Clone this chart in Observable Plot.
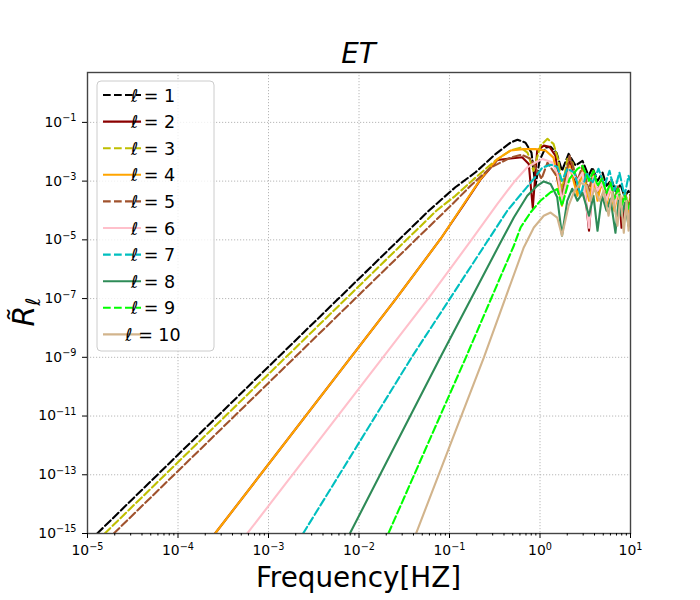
<!DOCTYPE html>
<html><head><meta charset="utf-8">
<script src="https://cdn.jsdelivr.net/npm/d3@7"></script>
<script src="https://cdn.jsdelivr.net/npm/@observablehq/plot@0.6"></script>
<style>
body{margin:0;background:#fff;font-family:"DejaVu Sans",sans-serif;}
#wrap{position:relative;width:700px;height:600px;}
#title{position:absolute;left:87px;width:543px;top:39.5px;text-align:center;font-size:27.8px;font-style:italic;line-height:1;font-family:"DejaVu Sans",sans-serif;z-index:2;}
</style></head><body>
<div id="wrap"><div id="title">ET</div></div>
<script>
// ---- data (frequency in Hz, response R̃_ℓ) ----
const ell1F = [1.28e-5, 2.75e-4, 5.94e-3, 5.94e-2, 0.116, 0.194, 0.322, 0.472, 0.564, 0.692, 0.805, 0.891, 0.989, 1.15, 1.31, 1.52, 1.75, 2.07, 2.47, 2.95, 3.44, 3.80, 4.32, 4.91, 5.43, 6.17, 6.82, 7.76, 8.59, 9.51, 10];
const ell1R = [1e-15, 1e-11, 1e-7, 1e-4, 6.17e-4, 2.0e-3, 8.32e-3, 2.04e-2, 2.57e-2, 2.04e-2, 9.33e-3, 6.92e-4, 5.01e-3, 1.38e-2, 1.48e-2, 9.33e-3, 2.24e-3, 8.51e-3, 3.39e-3, 4.90e-3, 1.51e-3, 2.88e-3, 1.02e-3, 1.95e-3, 6.92e-4, 1.12e-3, 4.68e-4, 7.59e-4, 2.95e-4, 4.68e-4, 3.16e-4];

const ell2F = [2.57e-4, 0.0257, 0.0796, 0.144, 0.220, 0.337, 0.472, 0.635, 0.752, 0.832, 0.931, 1.10, 1.27, 1.48, 1.75, 2.12, 2.59, 2.95, 3.48, 3.90, 4.32, 4.91, 5.43, 6.01, 6.65, 7.46, 7.96, 8.69, 9.51, 10];
const ell2R = [1e-15, 1e-7, 1.07e-5, 1.58e-4, 1.12e-3, 5.25e-3, 5.89e-3, 6.46e-3, 3.80e-3, 1.23e-4, 1.10e-2, 1.62e-2, 1.48e-2, 7.41e-3, 2.14e-4, 5.01e-3, 4.68e-4, 2.63e-3, 2.04e-5, 1.95e-3, 3.16e-4, 1.02e-3, 2.14e-4, 6.92e-4, 1.45e-4, 4.68e-4, 2.57e-5, 2.51e-4, 9.77e-5, 2.14e-4];

const ell3F = [1.55e-5, 3.34e-4, 7.21e-3, 0.0721, 0.116, 0.194, 0.322, 0.472, 0.610, 0.728, 0.847, 1.01, 1.21, 1.41, 1.60, 1.75, 2.01, 2.29, 2.59, 2.95, 3.48, 3.86, 4.32, 4.84, 5.43, 6.01, 6.65, 7.28, 7.96, 8.69, 9.51, 10];
const ell3R = [1e-15, 1e-11, 1e-7, 1e-4, 3.16e-4, 1.32e-3, 5.01e-3, 1.10e-2, 1.38e-2, 9.33e-3, 2.24e-3, 1.62e-2, 2.75e-2, 1.86e-2, 5.01e-3, 4.68e-4, 5.75e-3, 4.17e-3, 6.92e-4, 2.88e-3, 3.16e-4, 1.95e-3, 3.98e-4, 1.41e-3, 2.51e-4, 8.71e-4, 2.14e-4, 6.46e-4, 1.45e-4, 4.68e-4, 1.15e-4, 3.47e-4];

const ell4F = [2.57e-4, 0.0257, 0.0796, 0.144, 0.220, 0.337, 0.472, 0.658, 0.891, 1.15, 1.41, 1.75, 2.12, 2.59, 2.95, 3.48, 3.86, 4.32, 4.84, 5.43, 6.01, 6.65, 7.28, 7.96, 8.69, 9.51, 10];
const ell4R = [1e-15, 1e-7, 1.07e-5, 1.66e-4, 1.17e-3, 5.62e-3, 1.10e-2, 1.23e-2, 1.23e-2, 1.10e-2, 6.31e-3, 1.45e-4, 3.39e-3, 3.16e-4, 2.24e-3, 2.14e-4, 1.51e-3, 2.14e-4, 1.02e-3, 1.45e-4, 6.92e-4, 9.77e-5, 4.68e-4, 8.32e-5, 3.16e-4, 6.61e-5, 1.45e-4];

const ell5F = [1.95e-5, 4.21e-4, 9.08e-3, 0.0421, 0.103, 0.171, 0.284, 0.472, 0.625, 0.785, 0.938, 1.04, 1.21, 1.52, 1.75, 2.12, 2.59, 2.95, 3.48, 3.86, 4.32, 4.84, 5.43, 6.01, 6.65, 7.28, 7.96, 8.69, 9.51, 10];
const ell5R = [1e-15, 1e-11, 1e-7, 1e-5, 1.45e-4, 6.92e-4, 2.88e-3, 6.31e-3, 7.94e-3, 5.75e-3, 2.24e-3, 1.20e-3, 4.27e-3, 1.51e-3, 3.16e-4, 7.24e-3, 1.02e-3, 3.31e-3, 4.68e-4, 2.24e-3, 4.68e-4, 1.20e-3, 3.16e-4, 8.71e-4, 2.14e-4, 6.46e-4, 1.45e-4, 3.98e-4, 1.45e-4, 2.51e-4];

const ell6F = [5.82e-4, 0.0582, 0.178, 0.337, 0.514, 0.723, 0.891, 1.06, 1.36, 1.56, 1.75, 2.12, 2.59, 2.95, 3.48, 3.90, 4.32, 4.84, 5.43, 6.01, 6.65, 7.28, 7.96, 8.69, 9.51, 10];
const ell6R = [1e-15, 1e-7, 1.07e-5, 1.66e-4, 9.12e-4, 2.95e-3, 4.37e-3, 5.62e-3, 4.37e-3, 1.78e-3, 2.14e-4, 2.63e-3, 1.02e-3, 1.95e-3, 2.57e-5, 1.41e-3, 4.68e-4, 8.71e-4, 2.14e-4, 6.46e-4, 1.45e-4, 4.68e-4, 9.77e-5, 3.47e-4, 3.02e-5, 1.45e-4];

const ell7F = [2.41e-3, 0.0382, 0.272, 0.435, 0.662, 0.855, 1.06, 1.31, 1.55, 1.75, 2.01, 2.40, 2.81, 3.27, 3.80, 4.43, 5.16, 5.86, 6.65, 7.55, 8.59, 9.51, 10];
const ell7R = [1e-15, 1e-9, 1.07e-5, 9.77e-5, 4.68e-4, 1.20e-3, 2.88e-3, 3.63e-3, 3.09e-3, 1.02e-3, 2.63e-3, 1.95e-3, 3.16e-4, 1.95e-3, 8.71e-4, 2.63e-3, 6.92e-4, 2.24e-3, 4.68e-4, 1.95e-3, 3.16e-4, 1.51e-3, 1.02e-3];

const ell8F = [7.93e-3, 0.0793, 0.366, 0.514, 0.723, 0.931, 1.10, 1.31, 1.55, 1.75, 2.00, 2.27, 2.59, 2.95, 3.48, 3.90, 4.32, 4.84, 5.43, 6.01, 6.82, 7.38, 7.96, 8.69, 9.51, 10];
const ell8R = [1e-15, 1e-9, 8.13e-6, 5.75e-5, 3.16e-4, 6.92e-4, 9.77e-4, 7.94e-4, 2.82e-4, 1.38e-5, 2.14e-4, 5.50e-4, 2.14e-4, 3.98e-4, 6.61e-5, 3.16e-4, 2.04e-5, 3.16e-4, 9.77e-5, 2.51e-4, 1.74e-5, 2.14e-4, 6.61e-5, 1.82e-4, 3.02e-5, 9.77e-5];

const ell9F = [0.0211, 0.152, 0.514, 0.610, 0.785, 1.01, 1.31, 1.55, 1.75, 2.12, 2.59, 2.95, 3.48, 3.90, 4.32, 4.84, 5.43, 6.01, 6.65, 7.28, 7.96, 8.69, 9.51, 10];
const ell9R = [1e-15, 1e-9, 6.31e-6, 2.63e-5, 8.51e-5, 2.14e-4, 4.17e-4, 5.37e-4, 1.45e-4, 1.20e-3, 2.63e-3, 3.31e-3, 1.02e-3, 2.24e-3, 6.92e-4, 1.20e-3, 3.98e-4, 8.71e-4, 2.51e-4, 5.50e-4, 1.45e-4, 3.16e-4, 1.15e-4, 2.14e-4];

const ell10F = [0.0427, 0.240, 0.662, 0.855, 1.10, 1.31, 1.55, 1.75, 2.07, 2.40, 2.81, 3.27, 3.61, 4.00, 4.54, 5.04, 5.72, 6.32, 7.18, 7.76, 8.43, 9.04, 9.51, 10];
const ell10R = [1e-15, 1e-9, 5.50e-6, 2.63e-5, 6.61e-5, 8.51e-5, 5.75e-5, 1.38e-5, 1.45e-4, 4.68e-4, 8.71e-4, 6.92e-4, 2.14e-4, 5.50e-4, 2.14e-4, 4.68e-4, 6.61e-5, 3.98e-4, 3.02e-5, 3.16e-4, 1.74e-5, 2.14e-4, 2.04e-5, 1.45e-4];

const ellLabels = ["1","2","3","4","5","6","7","8","9","10"];
const ellColors = ["#000000","#8b0000","#bfbf00","#ffa500","#a0522d","#ffc0cb","#00bfbf","#2e8b57","#00ff00","#d2b48c"];
const ellDashed = [true,false,true,false,true,false,true,false,true,false];
const xTickValues = [1e-5,1e-4,1e-3,1e-2,1e-1,1,10];
const yTickValues = [1e-15,1e-13,1e-11,1e-9,1e-7,1e-5,1e-3,1e-1];
const xLabel = "Frequency[HZ]";

const freqs = [ell1F,ell2F,ell3F,ell4F,ell5F,ell6F,ell7F,ell8F,ell9F,ell10F];
const resps = [ell1R,ell2R,ell3R,ell4R,ell5R,ell6R,ell7R,ell8R,ell9R,ell10R];

const DASH = "7.7,3.3";
const series = ellLabels.map((l,i)=>({
  label:l, color:ellColors[i], dashed:ellDashed[i],
  data: freqs[i].map((f,j)=>({f, r:resps[i][j]}))
}));

const xMinor = [];
for (let e=-5; e<1; e++) for (let k=2;k<10;k++) xMinor.push(k*Math.pow(10,e));

const expFmt = v => "10^" + Math.round(Math.log10(v));

const gridStyle = {stroke:"#b0b0b0", strokeOpacity:1, strokeWidth:0.9, strokeDasharray:"1.2,1.8"};

const svg = Plot.plot({
  width:700, height:600,
  marginLeft:87, marginRight:70, marginTop:72, marginBottom:67,
  style:{fontFamily:"DejaVu Sans", fontSize:"13.9px", background:"white", color:"black"},
  x:{type:"log", domain:[1e-5,10]},
  y:{type:"log", domain:[1e-15,5]},
  marks:[
    Plot.gridX(xTickValues, gridStyle),
    Plot.gridY(yTickValues, gridStyle),
    ...series.map(s => Plot.line(s.data, {x:"f", y:"r", stroke:s.color, strokeWidth:2.1, strokeDasharray: s.dashed ? DASH : undefined, clip:true})),
    Plot.frame({stroke:"#444", strokeWidth:1.4}),
    Plot.axisX(xTickValues, {tickSize:5, tickPadding:7, tickFormat:expFmt, fontSize:13.9, label:null}),
    Plot.axisX(xMinor, {tickSize:2.5, tickFormat:()=>"", label:null}),
    Plot.axisY(yTickValues, {tickSize:5, tickPadding:6, tickFormat:expFmt, fontSize:13.9, label:null})
  ]
});
document.getElementById("wrap").appendChild(svg);

const S = d3.select(svg);
// tick labels as 10 with a raised exponent
S.selectAll("text").each(function(){
  const t = this.textContent;
  if (!t.startsWith("10^")) return;
  const e = t.slice(3).replace("-", "\u2212");
  const el = d3.select(this);
  el.text(null).attr("font-size", 13.9);
  if (el.attr("text-anchor") === "end") el.attr("dy", "0.45em");
  el.append("tspan").text("10");
  el.append("tspan").attr("dy", -5.5).attr("font-size", 9.7).text(e);
});
// x label
S.append("text").attr("x",358.5).attr("y",587).attr("text-anchor","middle")
  .attr("font-size",27.8).attr("font-family","DejaVu Sans").attr("fill","black").text(xLabel);
// y label
const yl = S.append("text").attr("transform","translate(34,312) rotate(-90)").attr("text-anchor","middle")
  .attr("font-size",30).attr("font-family","DejaVu Sans").attr("fill","black");
yl.append("tspan").attr("font-style","italic").text("R\u0303");
yl.append("tspan").attr("font-size",20).attr("dy",6).attr("font-style","italic").text("\u2113");

// legend
const lg = S.append("g");
lg.append("rect").attr("x",97).attr("y",81).attr("width",117).attr("height",270).attr("rx",4)
  .attr("fill","white").attr("fill-opacity",0.8).attr("stroke","#cccccc").attr("stroke-width",1);
series.forEach((s,i)=>{
  const y = 95 + i*26.6;
  const ln = lg.append("line").attr("x1",103).attr("x2",141).attr("y1",y).attr("y2",y)
    .attr("stroke",s.color).attr("stroke-width",2.1);
  if (s.dashed) ln.attr("stroke-dasharray",DASH);
  lg.append("text").attr("x",153).attr("y",y+6.5).attr("font-size",17.5).attr("font-family","DejaVu Sans")
    .attr("fill","black").text("\u2113 = " + s.label);
});
</script>
</body></html>
